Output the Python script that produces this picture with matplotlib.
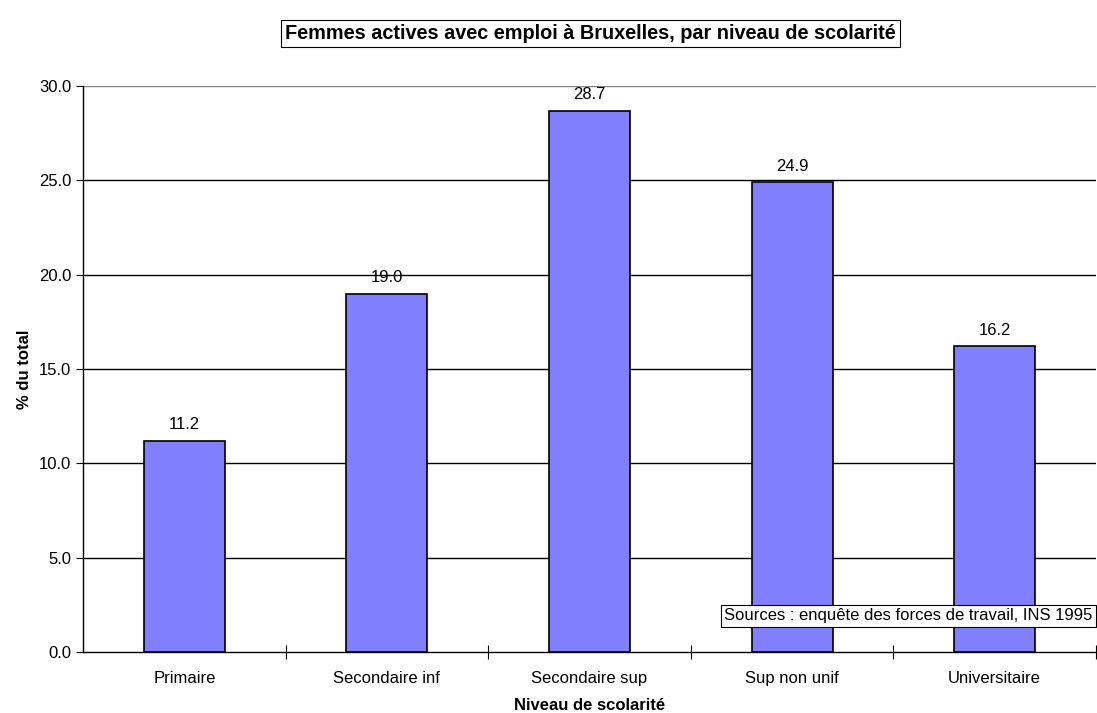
import matplotlib
matplotlib.use("Agg")
import matplotlib.pyplot as plt

# data
categories = ["Primaire", "Secondaire inf", "Secondaire sup", "Sup non unif", "Universitaire"]
values = [11.2, 19.0, 28.7, 24.9, 16.2]
yticks = [0, 5, 10, 15, 20, 25, 30]

plt.rcParams['font.family'] = ['Liberation Sans', 'DejaVu Sans']

fig = plt.figure(figsize=(10.97, 7.13), dpi=100)
ax = fig.add_axes([0.0757, 0.0856, 0.9233, 0.7938])

x = list(range(len(categories)))
ax.bar(x, values, width=0.4, color="#8080FF", edgecolor="black", linewidth=1.2, zorder=3)

for xi, v in zip(x, values):
    ax.text(xi, v + 0.45, f"{v:.1f}", ha="center", va="bottom", fontsize=12, zorder=4)

ax.set_xlim(-0.5, len(categories) - 0.5)
ax.set_ylim(0, 30)
ax.set_yticks(yticks)
ax.set_yticklabels([f"{t:.1f}" for t in yticks], fontsize=12)
for t in yticks[1:]:
    ax.axhline(t, color="gray" if t == 30 else "black", linewidth=1.0, zorder=1)

# category labels between ticks
ax.set_xticks([i + 0.5 for i in x])
ax.set_xticklabels([])
ax.set_xticks(x, minor=True)
ax.set_xticklabels(categories, minor=True, fontsize=12)
ax.tick_params(axis="x", which="minor", length=0, pad=14)
ax.tick_params(axis="x", which="major", direction="inout", length=10)
ax.tick_params(axis="y", direction="out", length=5)

for s in ["top", "right"]:
    ax.spines[s].set_visible(False)
ax.spines["left"].set_linewidth(1.0)
ax.spines["bottom"].set_linewidth(1.0)

ax.set_xlabel("Niveau de scolarité", fontsize=12, fontweight="bold", labelpad=8)
ax.set_ylabel("% du total", fontsize=12, fontweight="bold", labelpad=5)

fig.text(0.538, 0.953, "Femmes actives avec emploi à Bruxelles, par niveau de scolarité",
         ha="center", va="center", fontsize=14.3, fontweight="bold",
         bbox=dict(boxstyle="square,pad=0.2", facecolor="white", edgecolor="black", linewidth=0.8))

ax.text(0.997, 0.064, "Sources : enquête des forces de travail, INS 1995",
        transform=ax.transAxes, ha="right", va="center", fontsize=12, zorder=5,
        bbox=dict(boxstyle="square,pad=0.2", facecolor="white", edgecolor="black", linewidth=0.8))

fig.savefig("out.png", dpi=100)
